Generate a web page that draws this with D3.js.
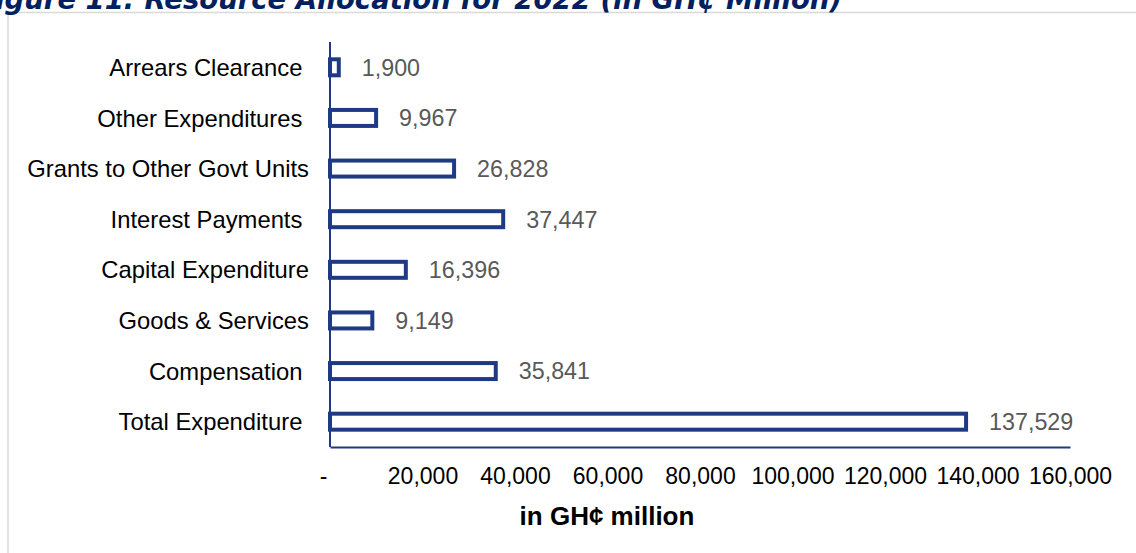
<!DOCTYPE html>
<html>
<head>
<meta charset="utf-8">
<script src="https://cdn.jsdelivr.net/npm/d3@7"></script>
<style>
  html, body { margin: 0; padding: 0; background: #fff; overflow: hidden; }
  svg { display: block; }
  text { white-space: pre; }
</style>
</head>
<body>
<script>
// ---- data ----
const categories = [
  "Arrears Clearance ",
  "Other Expenditures ",
  "Grants to Other Govt Units",
  "Interest Payments ",
  "Capital Expenditure",
  "Goods & Services",
  "Compensation ",
  "Total Expenditure "
];
const values = [1900, 9967, 26828, 37447, 16396, 9149, 35841, 137529];
const tickValues = [0, 20000, 40000, 60000, 80000, 100000, 120000, 140000, 160000];
const titleText = "Figure 11: Resource Allocation for 2022 (in GH¢ Million)";
const axisTitle = "in GH¢ million";

// ---- drawing ----
const W = 1136, H = 553;
const navy = "#1f3a85";
const svg = d3.select("body").append("svg").attr("width", W).attr("height", H);

// frame
svg.append("path")
  .attr("d", `M8,${H} L8,12.5 L${W},12.5`)
  .attr("fill", "none").attr("stroke", "#d9d9d9").attr("stroke-width", 1.5);

// title (clipped at top like the source)
svg.append("text")
  .attr("x", 842).attr("y", 8.5)
  .attr("text-anchor", "end")
  .attr("font-family", "DejaVu Sans")
  .attr("font-weight", "bold").attr("font-style", "italic")
  .attr("font-size", 27.5)
  .attr("fill", "#002060")
  .text(titleText);

const x = d3.scaleLinear().domain([0, 160000]).range([330, 1070]);
const y = d3.scaleBand().domain(categories).range([42, 447]);

// bars
const barH = 16;
svg.append("g").selectAll("rect").data(values).join("rect")
  .attr("x", x(0))
  .attr("y", (d, i) => y(categories[i]) + y.bandwidth() / 2 - barH / 2)
  .attr("width", d => x(d) - x(0))
  .attr("height", barH)
  .attr("fill", "#fff")
  .attr("stroke", navy).attr("stroke-width", 4);

// value labels
svg.append("g").selectAll("text").data(values).join("text")
  .attr("x", d => x(d) + 23)
  .attr("y", (d, i) => y(categories[i]) + y.bandwidth() / 2)
  .attr("dy", "0.36em")
  .attr("font-family", "Liberation Sans, Arial, sans-serif")
  .attr("font-size", 23.3)
  .attr("fill", "#595959")
  .text(d => d3.format(",")(d));

// y axis
const yAxis = svg.append("g").attr("transform", `translate(${x(0)},0)`)
  .call(d3.axisLeft(y).tickSize(0).tickPadding(21));
yAxis.select(".domain").attr("stroke", navy).attr("stroke-width", 2)
  .attr("d", `M0,42V447`);
yAxis.selectAll("text")
  .attr("font-family", "Liberation Sans, Arial, sans-serif")
  .attr("font-size", 23.8).attr("fill", "#000").attr("dy", "0.36em");

// x axis
const xAxis = svg.append("g").attr("transform", `translate(0,447)`)
  .call(d3.axisBottom(x).tickValues(tickValues).tickSize(0).tickPadding(21)
    .tickFormat(d => d === 0 ? "-" : d3.format(",")(d)));
xAxis.select(".domain").attr("stroke", navy).attr("stroke-width", 2);
xAxis.selectAll("text")
  .attr("font-family", "Liberation Sans, Arial, sans-serif")
  .attr("font-size", 23).attr("fill", "#000")
  .attr("dx", d => d === 0 ? -7 : 0);

// axis title
svg.append("text")
  .attr("x", 607).attr("y", 525)
  .attr("text-anchor", "middle")
  .attr("font-family", "Liberation Sans, Arial, sans-serif")
  .attr("font-weight", "bold")
  .attr("font-size", 26)
  .attr("fill", "#000")
  .text(axisTitle);
</script>
</body>
</html>
